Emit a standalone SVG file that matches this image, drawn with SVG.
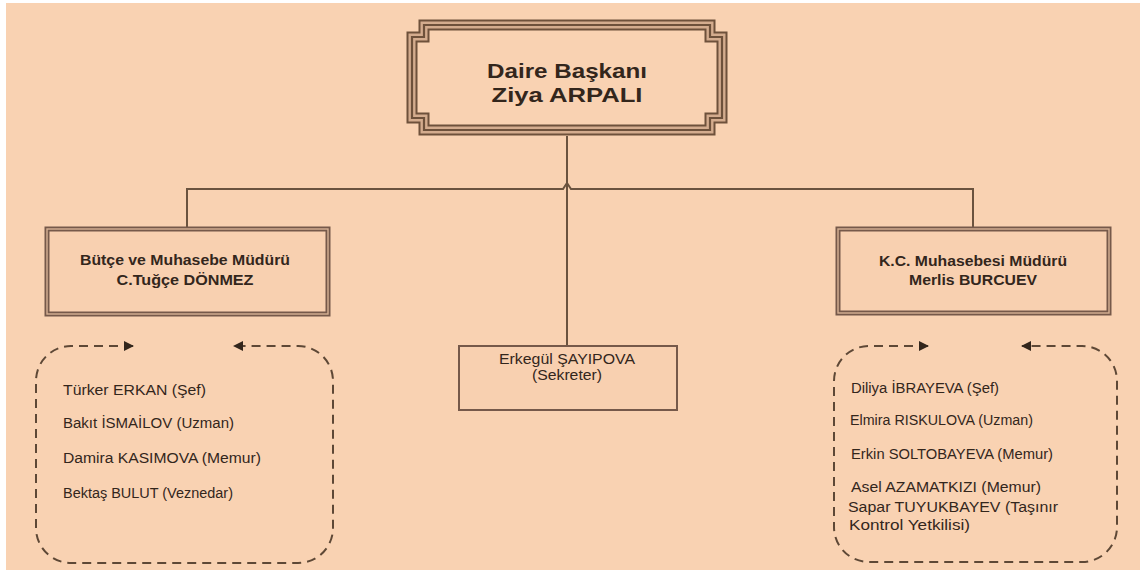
<svg xmlns="http://www.w3.org/2000/svg" width="1140" height="570" viewBox="0 0 1140 570">
<defs>
<style>
.t{font-family:"Liberation Sans",Arial,sans-serif;fill:#33261c}
.b{font-weight:bold}
.ln{fill:none;stroke:#6b533f;stroke-width:2}
.dash{fill:none;stroke:#5e4836;stroke-width:2;stroke-dasharray:9 6}
.box{fill:#f8d0b0;stroke:#76594a;stroke-width:5}
.boxin{fill:none;stroke:#d8b295;stroke-width:1.4}
</style>
<marker id="ah" viewBox="0 0 10 10" refX="9" refY="5" markerWidth="10" markerHeight="10" markerUnits="userSpaceOnUse" orient="auto-start-reverse">
<path d="M0,0 L10,5 L0,10 Z" fill="#33261c"/>
</marker>
</defs>
<rect x="0" y="0" width="1140" height="570" fill="#ffffff"/>
<rect x="6" y="3" width="1134" height="567" fill="#f9d2b2"/>

<g id="connectors">
<path class="ln" d="M567,136 V346"/>
<path class="ln" d="M187,229 V189 H563 L567,183 L571,189 H973 V229"/>
</g>

<g id="head">
<path d="M424,25 H710 V37 H722 V118 H710 V130 H424 V118 H412 V37 H424 Z" fill="#f9d2b2" stroke="#6e513b" stroke-width="11"/>
<path d="M424,25 H710 V37 H722 V118 H710 V130 H424 V118 H412 V37 H424 Z" fill="none" stroke="#d4ac8e" stroke-width="7"/>
<path d="M424,25 H710 V37 H722 V118 H710 V130 H424 V118 H412 V37 H424 Z" fill="none" stroke="#6e513b" stroke-width="2.2"/>
<text class="t b" x="567" y="78" font-size="21" text-anchor="middle" textLength="160" lengthAdjust="spacingAndGlyphs">Daire Başkanı</text>
<text class="t b" x="567" y="102" font-size="21" text-anchor="middle" textLength="151" lengthAdjust="spacingAndGlyphs">Ziya ARPALI</text>
</g>

<g id="mgr-left">
<rect class="box" x="47" y="229" width="281" height="85"/>
<rect class="boxin" x="47" y="229" width="281" height="85"/>
<text class="t b" x="185" y="265" font-size="14" text-anchor="middle" textLength="210" lengthAdjust="spacingAndGlyphs">Bütçe ve Muhasebe Müdürü</text>
<text class="t b" x="185" y="285" font-size="14" text-anchor="middle" textLength="137" lengthAdjust="spacingAndGlyphs">C.Tuğçe DÖNMEZ</text>
</g>

<g id="mgr-right">
<rect class="box" x="838" y="229" width="271" height="84"/>
<rect class="boxin" x="838" y="229" width="271" height="84"/>
<text class="t b" x="973" y="266" font-size="14" text-anchor="middle" textLength="188" lengthAdjust="spacingAndGlyphs">K.C. Muhasebesi Müdürü</text>
<text class="t b" x="973" y="285" font-size="14" text-anchor="middle" textLength="128" lengthAdjust="spacingAndGlyphs">Merlis BURCUEV</text>
</g>

<g id="secretary">
<rect x="459" y="346" width="218" height="64" fill="#f8d0b0" stroke="#76594a" stroke-width="2"/>
<text class="t" x="567" y="364" font-size="14" text-anchor="middle" textLength="136" lengthAdjust="spacingAndGlyphs">Erkegül ŞAYIPOVA</text>
<text class="t" x="567" y="380" font-size="14" text-anchor="middle" textLength="70" lengthAdjust="spacingAndGlyphs">(Sekreter)</text>
</g>

<g id="team-left">
<path class="dash" d="M133,346 H71 A35,35 0 0 0 36,381 V528 A35,35 0 0 0 71,563 H298 A35,35 0 0 0 333,528 V381 A35,35 0 0 0 298,346 H234" marker-start="url(#ah)" marker-end="url(#ah)"/>
<text class="t" x="63" y="395" font-size="14" textLength="143" lengthAdjust="spacingAndGlyphs">Türker ERKAN (Şef)</text>
<text class="t" x="63" y="428" font-size="14" textLength="171" lengthAdjust="spacingAndGlyphs">Bakıt İSMAİLOV (Uzman)</text>
<text class="t" x="63" y="463" font-size="14" textLength="198" lengthAdjust="spacingAndGlyphs">Damira KASIMOVA (Memur)</text>
<text class="t" x="63" y="498" font-size="14" textLength="170" lengthAdjust="spacingAndGlyphs">Bektaş BULUT (Veznedar)</text>
</g>

<g id="team-right">
<path class="dash" d="M928,346 H869 A35,35 0 0 0 834,381 V527 A35,35 0 0 0 869,562 H1082 A35,35 0 0 0 1117,527 V381 A35,35 0 0 0 1082,346 H1022" marker-start="url(#ah)" marker-end="url(#ah)"/>
<text class="t" x="851" y="393" font-size="14" textLength="148" lengthAdjust="spacingAndGlyphs">Diliya İBRAYEVA (Şef)</text>
<text class="t" x="850" y="425" font-size="14" textLength="183" lengthAdjust="spacingAndGlyphs">Elmira RISKULOVA (Uzman)</text>
<text class="t" x="851" y="459" font-size="14" textLength="202" lengthAdjust="spacingAndGlyphs">Erkin SOLTOBAYEVA (Memur)</text>
<text class="t" x="851" y="492" font-size="14" textLength="190" lengthAdjust="spacingAndGlyphs">Asel AZAMATKIZI (Memur)</text>
<text class="t" x="848" y="512" font-size="14" textLength="210" lengthAdjust="spacingAndGlyphs">Sapar TUYUKBAYEV (Taşınır</text>
<text class="t" x="849" y="530" font-size="14" textLength="121" lengthAdjust="spacingAndGlyphs">Kontrol Yetkilisi)</text>
</g>
</svg>
